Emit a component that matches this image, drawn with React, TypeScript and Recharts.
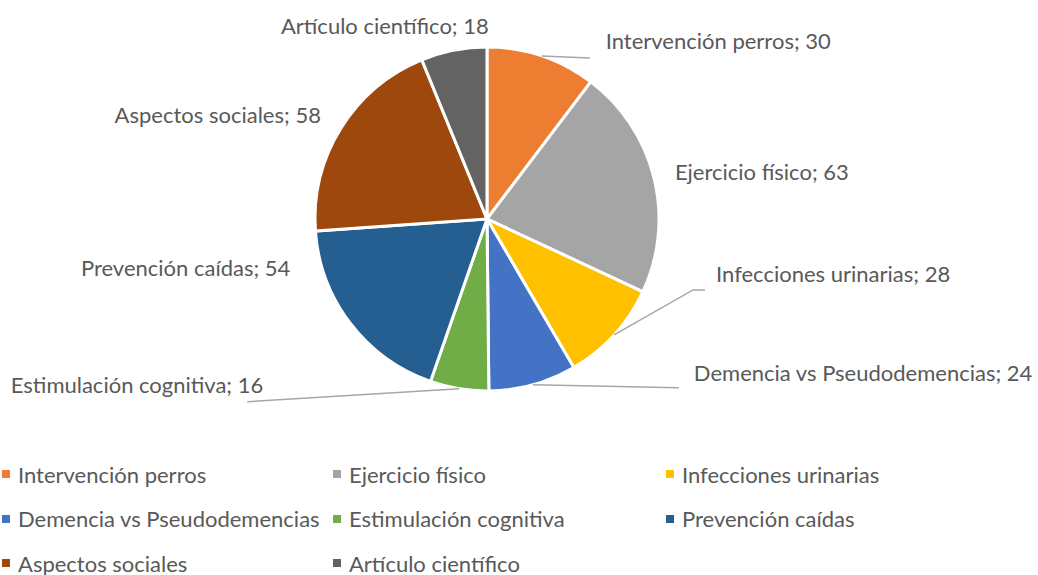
import { PieChart, Pie, Cell, Legend } from 'recharts'

const categories = [
  'Intervención perros',
  'Ejercicio físico',
  'Infecciones urinarias',
  'Demencia vs Pseudodemencias',
  'Estimulación cognitiva',
  'Prevención caídas',
  'Aspectos sociales',
  'Artículo científico',
]
const counts = [30, 63, 28, 24, 16, 54, 58, 18]
const colors = ['#ED7D31', '#A5A5A5', '#FFC000', '#4472C4', '#70AD47', '#255E91', '#9E480E', '#636363']

// label placement relative to the slice edge point (Excel-like best fit)
const labelLayout = [
  { dx: 64, dy: -15, anchor: 'start', line: [[48, 2]] },
  { dx: 21, dy: -6, anchor: 'start', line: [] },
  { dx: 102, dy: -61, anchor: 'start', line: [[79, -45], [91, -45]] },
  { dx: 161, dy: -12, anchor: 'start', line: [[146, 3]] },
  { dx: -196, dy: -4, anchor: 'end', line: [[-212, 13]] },
  { dx: -60, dy: -56, anchor: 'end', line: [] },
  { dx: -20, dy: -14, anchor: 'end', line: [] },
  { dx: 35, dy: -25, anchor: 'end', line: [] },
]

const data = categories.map((name, i) => ({ name, value: counts[i] }))

const FONT = 'Lato, "Liberation Sans", sans-serif'
const TEXT = '#595959'
const RAD = Math.PI / 180

function renderLabel(props: any) {
  const { cx, cy, outerRadius, midAngle, index, name, value } = props
  const ex = cx + outerRadius * Math.cos(-midAngle * RAD)
  const ey = cy + outerRadius * Math.sin(-midAngle * RAD)
  const l = labelLayout[index]
  const pts = [[ex, ey], ...l.line.map(([x, y]) => [ex + x, ey + y])]
  return (
    <g key={`lbl-${index}`}>
      {pts.length > 1 && (
        <polyline
          points={pts.map(p => p.join(',')).join(' ')}
          fill="none"
          stroke="#A6A6A6"
          strokeWidth={1.5}
        />
      )}
      <text
        x={ex + l.dx}
        y={ey + l.dy}
        textAnchor={l.anchor}
        dominantBaseline="central"
        fill={TEXT}
        fontSize={22}
        fontFamily={FONT}
      >
        {`${name}; ${value}`}
      </text>
    </g>
  )
}

function renderLegend() {
  return (
    <div
      style={{
        display: 'grid',
        gridTemplateColumns: '331px 333px 333px',
        paddingLeft: 2,
        fontFamily: FONT,
        fontSize: 22,
        color: TEXT,
      }}
    >
      {categories.map((c, i) => (
        <div key={c} style={{ display: 'flex', alignItems: 'center', height: 44.5, whiteSpace: 'nowrap' }}>
          <span style={{ width: 8, height: 8, background: colors[i], marginRight: 8, flexShrink: 0 }} />
          <span>{c}</span>
        </div>
      ))}
    </div>
  )
}

export default function App() {
  return (
    <div style={{ position: 'absolute', left: 0, top: 0, background: '#fff' }}>
      <PieChart width={1038} height={575} margin={{ top: 0, right: 0, bottom: 0, left: 0 }}>
        <Pie
          data={data}
          dataKey="value"
          nameKey="name"
          cx={487}
          cy={219}
          outerRadius={172}
          startAngle={90}
          endAngle={-270}
          stroke="#fff"
          strokeWidth={3}
          label={renderLabel}
          labelLine={false}
          isAnimationActive={false}
        >
          {data.map((d, i) => (
            <Cell key={d.name} fill={colors[i]} />
          ))}
        </Pie>
        <Legend
          content={renderLegend}
          wrapperStyle={{ position: 'absolute', left: 0, top: 452, width: 1038 }}
        />
      </PieChart>
    </div>
  )
}
